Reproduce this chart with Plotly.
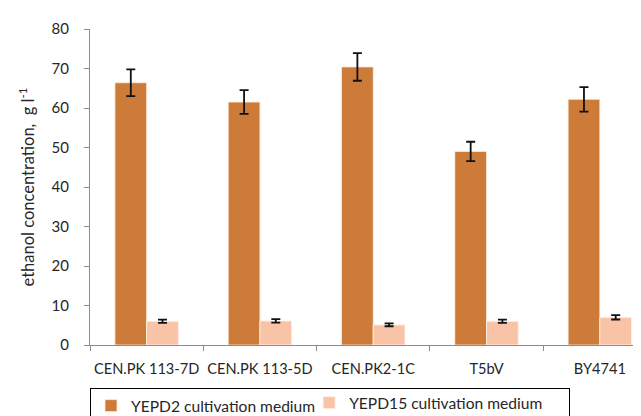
import plotly.graph_objects as go

categories = ["CEN.PK 113-7D", "CEN.PK 113-5D", "CEN.PK2-1C", "T5bV", "BY4741"]
yepd2 = [66.4, 61.5, 70.4, 49.0, 62.2]
yepd2_err = [3.4, 3.0, 3.5, 2.45, 3.1]
yepd15 = [6.0, 6.1, 5.1, 6.0, 7.0]
yepd15_err = [0.4, 0.45, 0.35, 0.4, 0.55]
y_ticks = [0, 10, 20, 30, 40, 50, 60, 70, 80]

font = "Lato, 'Open Sans', sans-serif"
legend_font = dict(family=font, size=15.6, color="#262626")

fig = go.Figure()
fig.add_trace(go.Bar(
    x=categories, y=yepd2, name="YEPD2 cultivation medium", legend="legend",
    marker=dict(color="#CC7B39", line=dict(color="rgba(255,235,220,0.8)", width=1)),
    error_y=dict(type="data", array=yepd2_err, color="#111111", thickness=1.8, width=4.5),
))
fig.add_trace(go.Bar(
    x=categories, y=yepd15, name="YEPD15 cultivation medium", legend="legend2",
    marker=dict(color="#F9C3A8", line=dict(color="rgba(255,240,232,0.9)", width=1)),
    error_y=dict(type="data", array=yepd15_err, color="#111111", thickness=1.8, width=4.5),
))

fig.update_layout(
    width=641, height=416,
    margin=dict(l=82, r=0, t=21, b=68),
    paper_bgcolor="white", plot_bgcolor="white",
    barmode="group", bargap=0.44, bargroupgap=0,
    font=dict(family=font, size=15, color="#262626"),
    showlegend=True,
    legend=dict(
        orientation="h", x=0, xanchor="left", y=-0.136, yanchor="top",
        bordercolor="#000000", borderwidth=1, bgcolor="rgba(0,0,0,0)", font=legend_font,
        entrywidth=433, entrywidthmode="pixels",
    ),
    legend2=dict(
        orientation="h", x=0.392, xanchor="left", y=-0.1835, yanchor="middle",
        borderwidth=0, bgcolor="rgba(0,0,0,0)", font=legend_font,
    ),
)
fig.update_xaxes(
    range=[-0.5, 4.434], showline=True, linecolor="#8c8c8c", linewidth=1.3,
    ticks="outside", tickson="boundaries", ticklen=5, tickcolor="#8c8c8c",
    showgrid=False, tickfont=dict(size=14.6), tickangle=0, automargin=False,
    ticklabelstandoff=10,
)
fig.update_yaxes(
    range=[0, 80], tickvals=y_ticks, showline=True, linecolor="#8c8c8c", linewidth=1.3,
    ticks="outside", ticklen=5, tickcolor="#8c8c8c", showgrid=False, zeroline=False,
    tickfont=dict(size=15), ticklabelstandoff=12, automargin=False,
    title=dict(text="ethanol concentration,  g l<sup>-1</sup>", font=dict(size=16.5), standoff=12),
)

fig.write_html("out.html")
